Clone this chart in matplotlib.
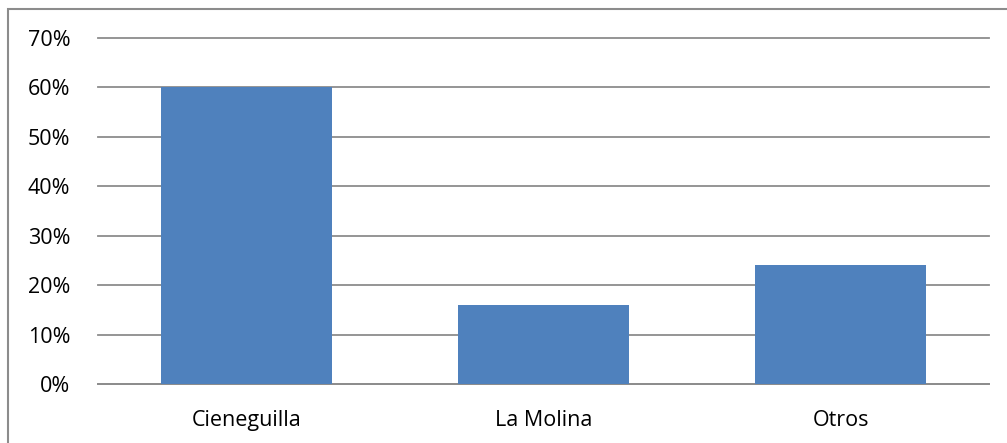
import matplotlib.pyplot as plt
from matplotlib.patches import Rectangle
from matplotlib.ticker import PercentFormatter

categories = ['Cieneguilla', 'La Molina', 'Otros']
values = [0.60, 0.16, 0.24]
ticks = [0.0, 0.1, 0.2, 0.3, 0.4, 0.5, 0.6, 0.7]

plt.rcParams['font.family'] = ['Open Sans', 'DejaVu Sans']

W, H = 1007, 443
fig = plt.figure(figsize=(W / 100, H / 100), dpi=100)
ax = fig.add_axes([98 / W, 1 - 384 / H, (989 - 98) / W, (384 - 38) / H])

# outer chart border
fig.patches.append(Rectangle((8 / W, -0.1), 1.2, 1 - 9 / H + 0.1,
                             transform=fig.transFigure, fill=False,
                             edgecolor='#8c8c8c', linewidth=1.5))

ax.bar(range(len(categories)), values, width=0.576, color='#4f81bd', zorder=3)

ax.set_xlim(-0.5, len(categories) - 0.5)
ax.set_ylim(0, 0.7)
ax.set_yticks(ticks)
ax.yaxis.set_major_formatter(PercentFormatter(1.0, decimals=0))
ax.set_xticks(range(len(categories)))
ax.set_xticklabels(categories)

ax.grid(axis='y', color='#8c8c8c', linewidth=1.3, zorder=0)
for line in ax.get_ygridlines():
    line.set_clip_on(False)
for s in ['top', 'right', 'left']:
    ax.spines[s].set_visible(False)
ax.spines['bottom'].set_color('#8c8c8c')
ax.spines['bottom'].set_linewidth(1.3)
ax.tick_params(axis='y', length=0, pad=20, labelsize=15.5)
ax.tick_params(axis='x', length=0, pad=19, labelsize=15.5)

fig.savefig('out.png', dpi=100)
